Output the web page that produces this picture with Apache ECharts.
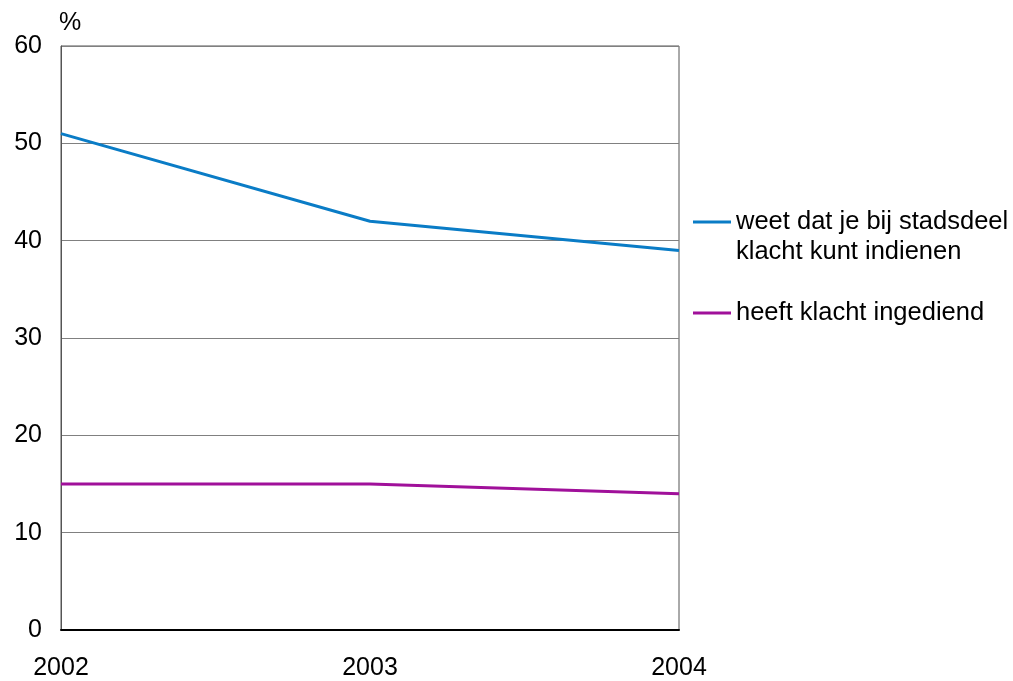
<!DOCTYPE html>
<html><head><meta charset="utf-8">
<script src="https://cdn.jsdelivr.net/npm/echarts@6/dist/echarts.min.js"></script>
<style>html,body{margin:0;padding:0;background:#fff}#c{width:1013px;height:681px}</style>
</head><body><div id="c"></div>
<script>
const years = ['2002','2003','2004'];
const weetDat = [51, 42, 39];
const ingediend = [15, 15, 14];
const seriesNames = ['weet dat je bij stadsdeel\nklacht kunt indienen', 'heeft klacht ingediend'];
const colors = ['#0a7cc6', '#a0109a'];
const font = 'Liberation Sans, Arial, sans-serif';
const fs = 25;
const lfs = 25.5;

const chart = echarts.init(document.getElementById('c'));
chart.setOption({
  animation: false,
  backgroundColor: '#fff',
  grid: {left: 61, right: 334, top: 46, bottom: 49, show: true, borderColor: '#555', borderWidth: 1},
  xAxis: {
    type: 'category', data: years, boundaryGap: false,
    axisLine: {show: true, lineStyle: {color: '#000', width: 2}},
    axisTick: {show: false},
    axisLabel: {color: '#000', fontSize: fs, fontFamily: font, margin: 26}
  },
  yAxis: {
    type: 'value', min: 0, max: 60, interval: 10,
    name: '%', nameLocation: 'end', nameGap: 10,
    nameTextStyle: {color: '#000', fontSize: fs, fontFamily: font, align: 'left', padding: [0, 0, 0, -2]},
    axisLine: {show: true, lineStyle: {color: '#555'}},
    axisTick: {show: false},
    splitLine: {lineStyle: {color: '#808080', width: 1}},
    axisLabel: {color: '#000', fontSize: fs, fontFamily: font, margin: 19}
  },
  series: [
    {name: seriesNames[0], type: 'line', data: weetDat, symbol: 'none', lineStyle: {color: colors[0], width: 3}, itemStyle: {color: colors[0]}},
    {name: seriesNames[1], type: 'line', data: ingediend, symbol: 'none', lineStyle: {color: colors[1], width: 3}, itemStyle: {color: colors[1]}}
  ],
  graphic: [
    {type: 'line', shape: {x1: 693, y1: 222, x2: 731, y2: 222}, style: {stroke: colors[0], lineWidth: 3}},
    {type: 'text', left: 736, top: 207, style: {text: seriesNames[0], font: lfs + 'px ' + font, fill: '#000', lineHeight: 30}},
    {type: 'line', shape: {x1: 693, y1: 313, x2: 731, y2: 313}, style: {stroke: colors[1], lineWidth: 3}},
    {type: 'text', left: 736, top: 298, style: {text: seriesNames[1], font: lfs + 'px ' + font, fill: '#000', lineHeight: 30}}
  ]
});
</script></body></html>
